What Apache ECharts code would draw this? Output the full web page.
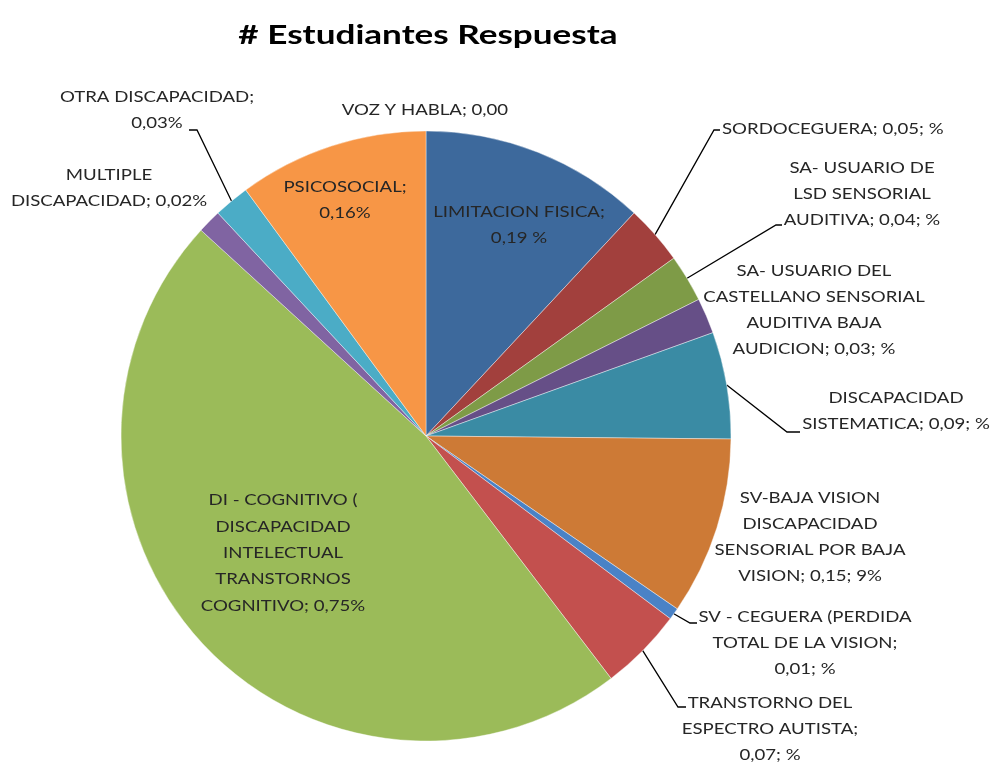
<!DOCTYPE html>
<html>
<head>
<meta charset="utf-8">
<script src="https://cdn.jsdelivr.net/npm/echarts@6/dist/echarts.min.js"></script>
<style>html,body{margin:0;padding:0;background:#fff}#c{width:995px;height:765px}</style>
</head>
<body>
<div id="c"></div>
<script>
// Categories (clockwise from 12 o'clock)
const categories = [
  'VOZ Y HABLA', 'LIMITACION FISICA', 'SORDOCEGUERA',
  'SA- USUARIO DE LSD SENSORIAL AUDITIVA',
  'SA- USUARIO DEL CASTELLANO SENSORIAL AUDITIVA BAJA AUDICION',
  'DISCAPACIDAD SISTEMATICA',
  'SV-BAJA VISION DISCAPACIDAD SENSORIAL POR BAJA VISION',
  'SV - CEGUERA (PERDIDA TOTAL DE LA VISION',
  'TRANSTORNO DEL ESPECTRO AUTISTA',
  'DI - COGNITIVO ( DISCAPACIDAD INTELECTUAL TRANSTORNOS COGNITIVO',
  'MULTIPLE DISCAPACIDAD', 'OTRA DISCAPACIDAD', 'PSICOSOCIAL'
];
const values = [0.00, 0.19, 0.05, 0.04, 0.03, 0.09, 0.15, 0.01, 0.07, 0.75, 0.02, 0.03, 0.16];
// Label text pieces as shown in the chart
const labelHeads = [
  'VOZ Y HABLA; ', 'LIMITACION FISICA;\n', 'SORDOCEGUERA; ',
  'SA- USUARIO DE\nLSD SENSORIAL\nAUDITIVA; ',
  'SA- USUARIO DEL\nCASTELLANO SENSORIAL\nAUDITIVA BAJA\nAUDICION; ',
  'DISCAPACIDAD\nSISTEMATICA; ',
  'SV-BAJA VISION\nDISCAPACIDAD\nSENSORIAL POR BAJA\nVISION; ',
  'SV - CEGUERA (PERDIDA\nTOTAL DE LA VISION;\n',
  'TRANSTORNO DEL\nESPECTRO AUTISTA;\n',
  'DI - COGNITIVO (\nDISCAPACIDAD\nINTELECTUAL\nTRANSTORNOS\nCOGNITIVO; ',
  'MULTIPLE\nDISCAPACIDAD; ', 'OTRA DISCAPACIDAD;\n', 'PSICOSOCIAL;\n'
];
const labelTails = ['', ' %', '; %', '; %', '; %', '; %', '; 9%', '; %', '; %', '%', '%', '%', '%'];
const colors = ['#4F81BD', '#3D699C', '#A2403D', '#7E9B47', '#664F87', '#3A8BA4', '#CD7A36',
                '#4A82C6', '#C3504E', '#9BBB59', '#8064A2', '#4BACC6', '#F79646'];
const TITLE = '# Estudiantes Respuesta';

// Layout (styles/positions for labels, not data)
const CX = 426, CY = 436, R = 305;
const SX = 1.2; // horizontal text stretch of the reference
const labelPos = [
  {x: 425, y: 110, a: 'center'}, {x: 519, y: 225, a: 'center'}, {x: 722, y: 129, a: 'left'},
  {x: 862, y: 194, a: 'center'}, {x: 814, y: 310, a: 'center'}, {x: 896, y: 411, a: 'center'},
  {x: 810, y: 537, a: 'center'}, {x: 805, y: 643, a: 'center'}, {x: 770, y: 729, a: 'center'},
  {x: 283, y: 553, a: 'center'}, {x: 109, y: 188, a: 'center'}, {x: 157, y: 110, a: 'center'},
  {x: 345, y: 200, a: 'center'}
];
// leader line elbow points (label side) for labels that have a line
const leader = {
  2: [[714, 130], [720, 130]],
  3: [[776, 225], [782, 225]],
  5: [[787, 432], [800, 432]],
  7: [[690, 623], [697, 623]],
  8: [[678, 707], [686, 707]],
  11: [[197, 130], [189, 130]]
};

const total = values.reduce((a, b) => a + b, 0);
const midAngles = [];
let acc = 0;
values.forEach(v => { midAngles.push((acc + v / 2) / total * 2 * Math.PI); acc += v; });

function fmt(v) { return v.toFixed(2).replace('.', ','); }

const data = categories.map((c, i) => ({
  name: c,
  value: values[i],
  itemStyle: {color: colors[i]},
  label: {formatter: labelHeads[i] + fmt(values[i]) + labelTails[i], position: leader[i] ? 'outside' : 'inside'},
  labelLine: {show: !!leader[i]}
}));

const chart = echarts.init(document.getElementById('c'), null, {renderer: 'canvas'});
chart.setOption({
  backgroundColor: '#ffffff',
  animation: false,
  title: {
    text: TITLE,
    left: 423, top: 17, textAlign: 'center',
    textStyle: {fontFamily: 'Lato', fontWeight: 'bold', fontSize: 27, color: '#000'}
  },
  series: [{
    type: 'pie',
    center: [CX, CY],
    radius: R,
    startAngle: 90,
    clockwise: true,
    data: data,
    itemStyle: {borderColor: '#ffffff', borderWidth: 0.4},
    emphasis: {disabled: true},
    label: {
      show: true, position: 'outside', overflow: 'none',
      fontFamily: 'Lato', fontSize: 15.5, color: '#262626', lineHeight: 26.3
    },
    labelLine: {show: false, lineStyle: {color: '#000', width: 1.3}, length: 10, length2: 10},
    labelLayout: function (p) {
      const i = p.dataIndex;
      const lp = labelPos[i];
      const out = {x: lp.x, y: lp.y, align: lp.a, verticalAlign: 'middle'};
      if (leader[i]) {
        const a = midAngles[i];
        const sx = CX + R * Math.sin(a), sy = CY - R * Math.cos(a);
        out.labelLinePoints = [[sx, sy]].concat(leader[i]);
      }
      return out;
    }
  }]
});

// stretch texts horizontally like the reference
try {
  const sd = chart.getModel().getSeriesByIndex(0).getData();
  sd.each(function (idx) {
    const el = sd.getItemGraphicEl(idx);
    const t = el && el.getTextContent && el.getTextContent();
    if (t) { t.scaleX = SX; t.markRedraw(); }
  });
  chart.getZr().storage.getRoots().forEach(function (root) {
    const visit = function (el) {
      if (el.type === 'text' && el.style && el.style.text === TITLE) { el.scaleX = 1.3; el.markRedraw(); }
    };
    visit(root);
    if (root.traverse) root.traverse(visit);
  });
  chart.getZr().refresh();
} catch (e) {}
</script>
</body>
</html>
